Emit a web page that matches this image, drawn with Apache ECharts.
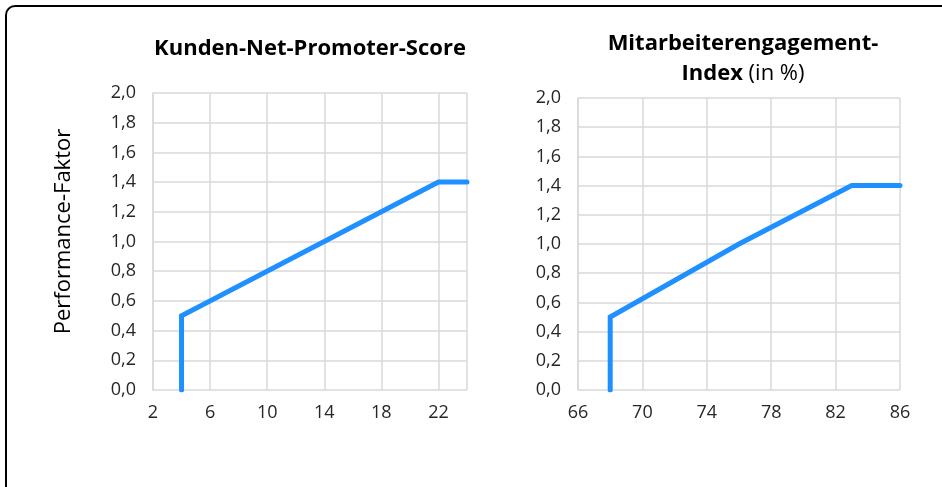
<!DOCTYPE html>
<html>
<head>
<meta charset="utf-8">
<style>
  html, body { margin: 0; padding: 0; background: #fff; }
  #chart { width: 942px; height: 487px; }
</style>
<script src="https://cdn.jsdelivr.net/npm/echarts@6/dist/echarts.min.js"></script>
</head>
<body>
<div id="chart"></div>
<script>
// NPS chart: points [score, factor]
const npsPoints = [[4, 0], [4, 0.5], [22, 1.4], [24, 1.4]];
// Engagement chart: points [index %, factor]
const engagementPoints = [[68, 0], [68, 0.5], [76, 1.0], [83, 1.4], [86, 1.4]];

const npsAxis = { min: 2, max: 24, interval: 4 };
const engagementAxis = { min: 66, max: 86, interval: 4 };
const factorAxis = { min: 0, max: 2, interval: 0.2 };

const leftTitle = "Kunden-Net-Promoter-Score";
const rightTitleLine1 = "Mitarbeiterengagement-";
const rightTitleBold = "Index";
const rightTitleRest = " (in %)";
const yAxisName = "Performance-Faktor";

const FONT = "Open Sans";
const LINE_BLUE = "#1e90ff";
const GRID_GREY = "#d9d9d9";
const TEXT = "#262626";

const chart = echarts.init(document.getElementById("chart"), null, { renderer: "canvas" });

// gemeinsame Achsen-Einstellungen
const xAxisBase = (ax) => ({
  type: "value",
  min: ax.min,
  max: ax.max,
  interval: ax.interval,
  axisLine: { show: false },
  axisTick: { show: false },
  axisLabel: {
    color: TEXT,
    fontFamily: FONT,
    fontSize: 18,
    margin: 14,
    showMaxLabel: ax.max % ax.interval === ax.min % ax.interval,
  },
  splitLine: { show: true, lineStyle: { color: GRID_GREY, width: 1.5 } },
});

const yAxisBase = () => ({
  type: "value",
  min: factorAxis.min,
  max: factorAxis.max,
  interval: factorAxis.interval,
  axisLine: { show: true, lineStyle: { color: GRID_GREY, width: 1.5 } },
  axisTick: { show: false },
  axisLabel: {
    color: TEXT,
    fontFamily: FONT,
    fontSize: 18,
    margin: 17,
    formatter: (v) => v.toFixed(1).replace(".", ","),
  },
  splitLine: { show: true, lineStyle: { color: GRID_GREY, width: 1.5 } },
});

const lineSeries = (idx, data) => ({
  type: "line",
  xAxisIndex: idx,
  yAxisIndex: idx,
  data: data,
  showSymbol: false,
  symbol: "none",
  lineStyle: { color: LINE_BLUE, width: 5, cap: "round", join: "miter" },
  animation: false,
});

const option = {
  backgroundColor: "#fff",
  animation: false,
  graphic: [
    {
      type: "rect",
      shape: { x: 6, y: 6, width: 980, height: 520, r: 9 },
      style: { fill: "none", stroke: "#000", lineWidth: 2 },
      silent: true,
    },
  ],
  title: [
    {
      text: leftTitle,
      left: 305,
      top: 33,
      textAlign: "center",
      textStyle: { fontFamily: FONT, fontSize: 22, fontWeight: "bold", color: "#000" },
    },
    {
      text: rightTitleLine1 + "\n{b|" + rightTitleBold + "}{n|" + rightTitleRest + "}",
      left: 738,
      top: 24,
      textAlign: "center",
      textStyle: {
        fontFamily: FONT,
        fontSize: 22,
        fontWeight: "bold",
        color: "#000",
        lineHeight: 30,
        rich: {
          b: { fontFamily: FONT, fontSize: 22, fontWeight: "bold", color: "#000", lineHeight: 30 },
          n: { fontFamily: FONT, fontSize: 22, fontWeight: "normal", color: "#000", lineHeight: 30 },
        },
      },
    },
  ],
  grid: [
    { left: 153, top: 93, width: 314, height: 297 },
    { left: 578, top: 98, width: 322, height: 292 },
  ],
  xAxis: [
    Object.assign(xAxisBase(npsAxis), { gridIndex: 0 }),
    Object.assign(xAxisBase(engagementAxis), { gridIndex: 1 }),
  ],
  yAxis: [
    Object.assign(yAxisBase(), {
      gridIndex: 0,
      name: yAxisName,
      nameLocation: "middle",
      nameGap: 78,
      nameTextStyle: { fontFamily: FONT, fontSize: 22, color: "#000", padding: [0, 0, 0, 20] },
    }),
    Object.assign(yAxisBase(), { gridIndex: 1 }),
  ],
  series: [lineSeries(0, npsPoints), lineSeries(1, engagementPoints)],
};

chart.setOption(option);
window.addEventListener("resize", () => chart.resize());
</script>
</body>
</html>
